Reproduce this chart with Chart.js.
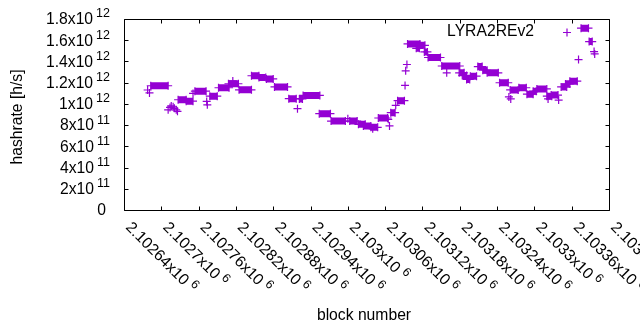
<!DOCTYPE html>
<html>
<head>
<meta charset="utf-8">
<script src="https://cdn.jsdelivr.net/npm/chart.js@4/dist/chart.umd.min.js"></script>
<style>
  html, body { margin: 0; padding: 0; background: #fff; }
  #c { display: block; }
</style>
</head>
<body>
<canvas id="c" width="640" height="330"></canvas>
<script>
// ---- data (runs of consecutive blocks with the same hashrate; start == end for single blocks) ----
const runStart = [2102678,2102681,2102683,2102711,2102714,2102716,2102719,2102721,2102724,2102726,
  2102727,2102740,2102751,2102754,2102773,2102774,2102778,2102792,2102808,2102815,
  2102825,2102845,2102857,2102869,2102882,2102905,2102919,2102922,2102928,2102954,
  2102973,2103000,2103003,2103017,2103025,2103037,2103040,2103049,2103065,2103067,
  2103069,2103077,2103080,2103092,2103093,2103095,2103096,2103110,2103116,2103123,
  2103129,2103151,2103159,2103179,2103184,2103191,2103197,2103209,2103217,2103224,
  2103244,2103259,2103261,2103262,2103275,2103288,2103298,2103304,2103320,2103322,
  2103327,2103339,2103343,2103350,2103357,2103371,2103375,2103388,2103396,2103397];
const runEnd = [2102678,2102681,2102711,2102711,2102714,2102716,2102719,2102721,2102724,2102726,
  2102740,2102751,2102751,2102772,2102773,2102774,2102790,2102809,2102824,2102815,
  2102845,2102857,2102868,2102880,2102903,2102917,2102919,2102927,2102955,2102972,
  2102996,2103000,2103015,2103028,2103037,2103048,2103040,2103064,2103065,2103067,
  2103076,2103077,2103091,2103092,2103093,2103095,2103116,2103115,2103124,2103128,
  2103149,2103180,2103159,2103187,2103191,2103196,2103207,2103216,2103224,2103242,
  2103258,2103259,2103274,2103262,2103287,2103298,2103303,2103320,2103328,2103322,
  2103338,2103339,2103352,2103357,2103369,2103371,2103387,2103393,2103396,2103397];
const hashrate = [1131e9,1103e9,1171e9,944e9,967e9,981e9,972e9,958e9,944e9,930e9,
  1039e9,1026e9,1099e9,1120e9,1023e9,991e9,1073e9,1152e9,1190e9,1216e9,
  1133e9,1265e9,1249e9,1235e9,1160e9,1049e9,955e9,1047e9,1080e9,908e9,
  838e9,861e9,838e9,807e9,792e9,779e9,765e9,867e9,855e9,792e9,
  917e9,986e9,1030e9,1174e9,1312e9,1371e9,1565e9,1524e9,1552e9,1490e9,
  1437e9,1357e9,1293e9,1293e9,1268e9,1230e9,1261e9,1352e9,1317e9,1293e9,
  1199e9,1066e9,1132e9,1047e9,1152e9,1092e9,1120e9,1141e9,1073e9,1047e9,
  1083e9,1036e9,1160e9,1188e9,1214e9,1418e9,1714e9,1587e9,1493e9,1471e9];

const seriesName = 'LYRA2REv2';
const xTickValues = [2102640,2102700,2102760,2102820,2102880,2102940,2103000,2103060,2103120,2103180,2103240,2103300,2103360,2103420];
const xTickBase = ['2.10264x10','2.1027x10','2.10276x10','2.10282x10','2.10288x10','2.10294x10','2.103x10','2.10306x10','2.10312x10','2.10318x10','2.10324x10','2.1033x10','2.10336x10','2.10342x10'];
const xTickExp = ['6','6','6','6','6','6','6','6','6','6','6','6','6','6'];
const yTickValues = [0,2e11,4e11,6e11,8e11,1e12,1.2e12,1.4e12,1.6e12,1.8e12];
const yTickBase = ['0','2x10','4x10','6x10','8x10','1x10','1.2x10','1.4x10','1.6x10','1.8x10'];
const yTickExp = ['','11','11','11','11','12','12','12','12','12'];
const xTitle = 'block number';
const yTitle = 'hashrate [h/s]';

// ---- build dataset: each run is a segment, separated by gaps ----
const points = [];
for (let i = 0; i < runStart.length; i++) {
  points.push({x: runStart[i], y: hashrate[i]});
  if (runEnd[i] > runStart[i]) points.push({x: runEnd[i], y: hashrate[i]});
  points.push({x: runEnd[i], y: null});
}

const COLOR = '#9400d3';
const FONT = '"Liberation Sans", Arial, sans-serif';

function drawCross(ctx, x, y, r) {
  ctx.beginPath();
  ctx.moveTo(x - r, y); ctx.lineTo(x + r, y);
  ctx.moveTo(x, y - r); ctx.lineTo(x, y + r);
  ctx.stroke();
}

const gnuplotDecor = {
  id: 'gnuplotDecor',
  beforeDatasetsDraw(chart) {
    const {ctx, chartArea: a, scales: {x, y}} = chart;
    ctx.save();
    ctx.strokeStyle = '#000';
    ctx.lineWidth = 1;
    const L = a.left + 0.5, R = a.right + 0.5, T = a.top + 0.5, B = a.bottom + 0.5;
    ctx.beginPath();
    ctx.moveTo(L, T); ctx.lineTo(R, T); ctx.lineTo(R, B); ctx.lineTo(L, B); ctx.closePath();
    const tl = 4;
    xTickValues.forEach(v => {
      const px = Math.round(x.getPixelForValue(v)) + 0.5;
      ctx.moveTo(px, B); ctx.lineTo(px, B - tl);
      ctx.moveTo(px, T); ctx.lineTo(px, T + tl);
    });
    yTickValues.forEach(v => {
      const py = Math.round(y.getPixelForValue(v)) + 0.5;
      ctx.moveTo(L, py); ctx.lineTo(L + tl, py);
      ctx.moveTo(R, py); ctx.lineTo(R - tl, py);
    });
    ctx.stroke();
    ctx.restore();
  },
  afterDraw(chart) {
    const {ctx, chartArea: a, scales: {x, y}} = chart;
    ctx.save();
    ctx.fillStyle = '#000';
    const base = '15.7px ' + FONT, sup = '12.5px ' + FONT;
    // y tick labels
    yTickValues.forEach((v, i) => {
      const py = y.getPixelForValue(v);
      ctx.textBaseline = 'middle';
      ctx.textAlign = 'right';
      if (yTickExp[i]) {
        ctx.font = sup;
        const w = ctx.measureText(yTickExp[i]).width;
        ctx.fillText(yTickExp[i], 110, py - 5);
        ctx.font = base;
        ctx.fillText(yTickBase[i], 110 - w - 3, py + 1);
      } else {
        ctx.font = base;
        ctx.fillText(yTickBase[i], 106, py + 1);
      }
    });
    // x tick labels, rotated 45 degrees clockwise
    xTickValues.forEach((v, i) => {
      const px = x.getPixelForValue(v);
      ctx.save();
      ctx.translate(px + 4, a.bottom + 15);
      ctx.rotate(Math.PI / 4);
      ctx.textAlign = 'left';
      ctx.textBaseline = 'middle';
      ctx.font = base;
      ctx.fillText(xTickBase[i], 0, 0);
      const w = ctx.measureText(xTickBase[i]).width;
      ctx.font = sup;
      ctx.fillText(xTickExp[i], w + 4, -5);
      ctx.restore();
    });
    // axis titles
    ctx.font = base;
    ctx.textAlign = 'center';
    ctx.textBaseline = 'middle';
    ctx.fillText(xTitle, 364, 316);
    ctx.save();
    ctx.translate(18, 117);
    ctx.rotate(-Math.PI / 2);
    ctx.fillText(yTitle, 0, 0);
    ctx.restore();
    // key
    ctx.textAlign = 'right';
    ctx.fillText(seriesName, 534, 32);
    ctx.strokeStyle = COLOR;
    ctx.lineWidth = 1.2;
    drawCross(ctx, 567, 32.5, 4);
    ctx.restore();
  }
};

new Chart(document.getElementById('c'), {
  type: 'line',
  data: {
    datasets: [{
      label: seriesName,
      data: points,
      borderColor: COLOR,
      backgroundColor: COLOR,
      borderWidth: 7,
      borderCapStyle: 'butt',
      spanGaps: false,
      tension: 0,
      fill: false,
      pointStyle: 'cross',
      pointRadius: 4,
      pointBorderWidth: 1.2,
      pointBorderColor: COLOR,
      pointHoverRadius: 4
    }]
  },
  options: {
    responsive: false,
    animation: false,
    devicePixelRatio: 1,
    events: [],
    layout: { padding: { left: 0, right: 31, top: 19, bottom: 0 } },
    plugins: { legend: { display: false }, tooltip: { enabled: false } },
    scales: {
      x: {
        type: 'linear',
        min: xTickValues[0],
        max: xTickValues[xTickValues.length - 1],
        afterBuildTicks: s => { s.ticks = xTickValues.map(v => ({value: v})); },
        afterFit: s => { s.height = 120; },
        ticks: { display: false },
        grid: { display: false },
        border: { display: false }
      },
      y: {
        type: 'linear',
        min: 0,
        max: yTickValues[yTickValues.length - 1],
        afterBuildTicks: s => { s.ticks = yTickValues.map(v => ({value: v})); },
        afterFit: s => { s.width = 124; },
        ticks: { display: false },
        grid: { display: false },
        border: { display: false }
      }
    }
  },
  plugins: [gnuplotDecor]
});
</script>
</body>
</html>
